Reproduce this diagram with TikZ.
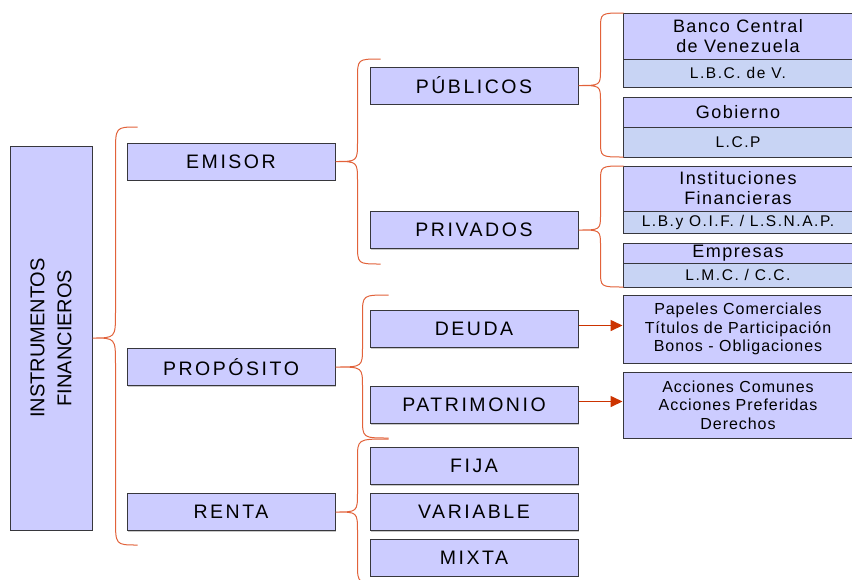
\documentclass[tikz,border=0pt]{standalone}
\usepackage{fontspec}
\setmainfont{Liberation Sans}
\newfontfamily\capsfont{Liberation Sans}[LetterSpace=13]
\newfontfamily\headfont{Liberation Sans}[LetterSpace=8]
\newfontfamily\lawfont{Liberation Sans}[LetterSpace=10]
\newfontfamily\listfont{Liberation Sans}[LetterSpace=6]
\usepackage{tikz}
\usetikzlibrary{calc}
\usetikzlibrary{shadows}
\usetikzlibrary{arrows.meta}

\definecolor{boxfill}{RGB}{204,204,255}
\definecolor{lawfill}{RGB}{200,212,244}
\definecolor{boxline}{RGB}{55,55,60}
\definecolor{forkred}{RGB}{226,98,58}
\definecolor{arrowred}{RGB}{204,51,0}

% curly brace: tip node, spine offset, top y, bottom y, arm length, curl
\newcommand{\fork}[6]{%
  \draw[forkline] let \p1=(#1) in
    (\x1+#2pt+#5pt,-#3pt) .. controls (\x1+#2pt,-#3pt) .. (\x1+#2pt,-#3pt-#6pt)
    -- (\x1+#2pt,\y1+#6pt) .. controls (\x1+#2pt,\y1) .. (\p1)
    .. controls (\x1+#2pt,\y1) .. (\x1+#2pt,\y1-#6pt)
    -- (\x1+#2pt,-#4pt+#6pt) .. controls (\x1+#2pt,-#4pt) .. (\x1+#2pt+#5pt,-#4pt);
}

\tikzset{
  box/.style={draw=boxline, line width=1pt, fill=boxfill, inner sep=0pt,
    drop shadow={shadow xshift=0.8pt, shadow yshift=-1.2pt, fill=black!35, opacity=0.6}},
  catbox/.style={box, minimum width=208pt, minimum height=37pt,
    font=\capsfont\fontsize{19.5}{22}\selectfont},
  headbox/.style={box, minimum width=230pt, align=center,
    font=\headfont\fontsize{18}{20}\selectfont},
  lawbox/.style={box, fill=lawfill, minimum width=230pt,
    font=\lawfont\fontsize{15.5}{17}\selectfont},
  listbox/.style={box, minimum width=230pt, align=center,
    font=\listfont\fontsize{16}{18.3}\selectfont},
  forkline/.style={draw=forkred, line width=1pt},
  linkarrow/.style={draw=arrowred, line width=1.6pt, -{Triangle[length=12pt,width=11pt]},
    transform canvas={yshift=3.5pt}},
}

\begin{document}
\begin{tikzpicture}[x=1pt,y=-1pt]
\useasboundingbox[fill=white] (0,0) rectangle (852,579);

\node[box, minimum width=82pt, minimum height=384pt](inst) at (51,338) {};
\node[rotate=90, align=center, font=\fontsize{20}{27}\selectfont](instlabel) at (inst.center) {INSTRUMENTOS\\FINANCIEROS};

% first level
\node[catbox](emisor) at (231,161.5) {EMISOR};
\node[catbox](proposito) at (231,367) {PROPÓSITO};
\node[catbox](renta) at (231,512) {RENTA};

% second level
\node[catbox](publicos) at (474,85.5) {PÚBLICOS};
\node[catbox](privados) at (474,230) {PRIVADOS};
\node[catbox](deuda) at (474,329) {DEUDA};
\node[catbox](patrimonio) at (474,405) {PATRIMONIO};
\node[catbox](fija) at (474,466) {FIJA};
\node[catbox](variable) at (474,512) {VARIABLE};
\node[catbox](mixta) at (474,557.5) {MIXTA};

% issuers and their laws
\node[headbox, minimum height=46pt](banco) at (738,36) {Banco Central\\de Venezuela};
\node[lawbox, minimum height=28pt](lbcv) at (738,73) {L.B.C. de V.};
\node[headbox, minimum height=30pt](gobierno) at (738,112) {Gobierno};
\node[lawbox, minimum height=30pt](lcp) at (738,142) {L.C.P};
\node[headbox, minimum height=45pt](instituciones) at (738,188.5) {Instituciones\\Financieras};
\node[lawbox, minimum height=22pt](lbyoif) at (738,222) {L.B.y O.I.F. / L.S.N.A.P.};
\node[headbox, minimum height=20pt](empresas) at (738,253) {Empresas};
\node[lawbox, minimum height=24pt](lmc) at (738,275) {L.M.C. / C.C.};

\node[listbox, minimum height=68pt](papeles) at (738,329) {Papeles Comerciales\\Títulos de Participación\\Bonos - Obligaciones};
\node[listbox, minimum height=66pt](acciones) at (738,405) {Acciones Comunes\\Acciones Preferidas\\Derechos};

\draw[linkarrow] (deuda) -- (papeles);
\draw[linkarrow] (patrimonio) -- (acciones);

% braces
\fork{inst.east}{23}{127}{545}{22}{26}
\fork{emisor.east}{22}{59}{264}{23}{20}
\fork{publicos.east}{22}{13}{157}{23}{16}
\fork{privados.east}{22}{166}{287}{23}{16}
\fork{proposito.east}{27}{295}{438}{26}{20}
\fork{renta.east}{22}{439}{584}{31}{20}
\end{tikzpicture}
\end{document}
